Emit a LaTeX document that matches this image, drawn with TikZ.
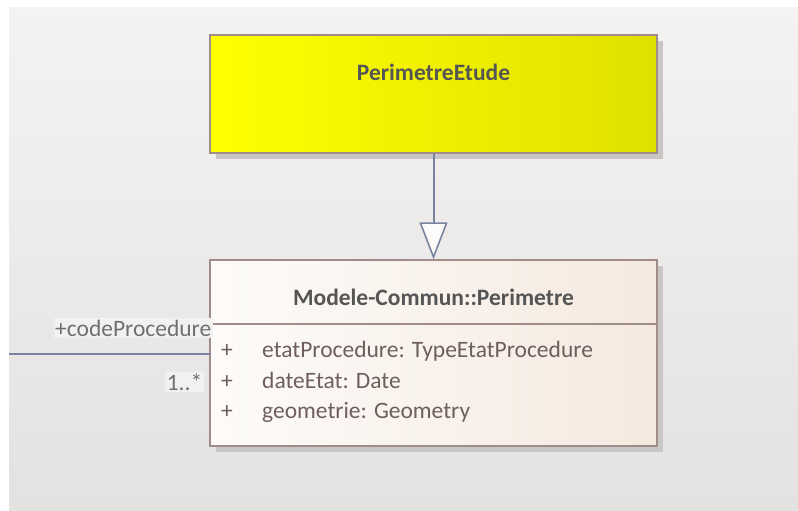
\documentclass[tikz,border=0pt]{standalone}
\usepackage{fontspec}
\setmainfont{Carlito}
\usetikzlibrary{arrows.meta,shadows}
\definecolor{bgtop}{HTML}{F4F3F2}
\definecolor{bgbot}{HTML}{E4E2E0}
\definecolor{yelL}{HTML}{FFFF00}
\definecolor{yelR}{HTML}{E0E000}
\definecolor{pmL}{HTML}{FDFBF9}
\definecolor{pmR}{HTML}{F5E9DF}
\definecolor{boxline}{HTML}{A08C88}
\definecolor{conn}{HTML}{7A84A0}
\definecolor{titletxt}{HTML}{555555}
\definecolor{attrtxt}{HTML}{6E5E5E}
\definecolor{lbltxt}{HTML}{707070}
\definecolor{lblbg}{HTML}{F1F1F0}
\definecolor{shadowc}{HTML}{C9C7C5}
\tikzset{
  x=1pt, y=-1pt,
  umlbox/.style={draw=boxline, line width=1.4pt, minimum width=447pt, inner sep=0pt},
  boxshadow/.style={fill=shadowc, draw=none},
  titlefont/.style={font=\fontsize{23.5}{28}\selectfont\bfseries, text=titletxt},
  attrfont/.style={font=\fontsize{23.5}{28}\selectfont, text=attrtxt, anchor=base west, inner sep=0pt},
  rolelabel/.style={font=\fontsize{23.5}{28}\selectfont, text=lbltxt, fill=lblbg, inner sep=1.5pt},
  conline/.style={draw=conn, line width=2pt},
  gen/.style={conline, -{Triangle[length=37pt, width=28pt, fill=pmL, line width=1.6pt]}}
}
\begin{document}
\begin{tikzpicture}
\useasboundingbox (0,0) rectangle (798,511);
\fill[white] (0,0) rectangle (798,511);
\shade[top color=bgtop, bottom color=bgbot] (9,8) rectangle (798,511);
% shadows
\fill[boxshadow] (216,41) rectangle (663,159);
\fill[boxshadow] (216,266) rectangle (663,452);
% boxes
\node[umlbox, minimum height=118pt, left color=yelL, right color=yelR] (pe) at (433.5,94) {};
\node[titlefont] (pet) at (433.5,72) {PerimetreEtude};
\node[umlbox, minimum height=186pt, left color=pmL, right color=pmR] (pm) at (433.5,353) {};
\node[titlefont] (pmt) at (433.5,297) {Modele-Commun::Perimetre};
\coordinate (divL) at (210,324);
\coordinate (divR) at (657,324);
\draw[draw=boxline, line width=1.4pt] (divL) -- (divR);
\node[attrfont] (p1) at (221,357) {+};
\node[attrfont] (a1) at (262,357) {etatProcedure: TypeEtatProcedure};
\node[attrfont] (p2) at (221,388) {+};
\node[attrfont] (a2) at (262,388) {dateEtat: Date};
\node[attrfont] (p3) at (221,418) {+};
\node[attrfont] (a3) at (262,418) {geometrie: Geometry};
% generalization
\draw[gen] (pe.south) -- (pm.north);
% association
\coordinate (assocEnd) at (9,354);
\coordinate (assocStart) at (210,354);
\draw[conline] (assocEnd) -- (assocStart);
\node[rolelabel, anchor=east] (role) at (213,328) {+codeProcedure};
\node[rolelabel, anchor=east] (mult) at (204,382) {1..*};
\end{tikzpicture}
\end{document}
